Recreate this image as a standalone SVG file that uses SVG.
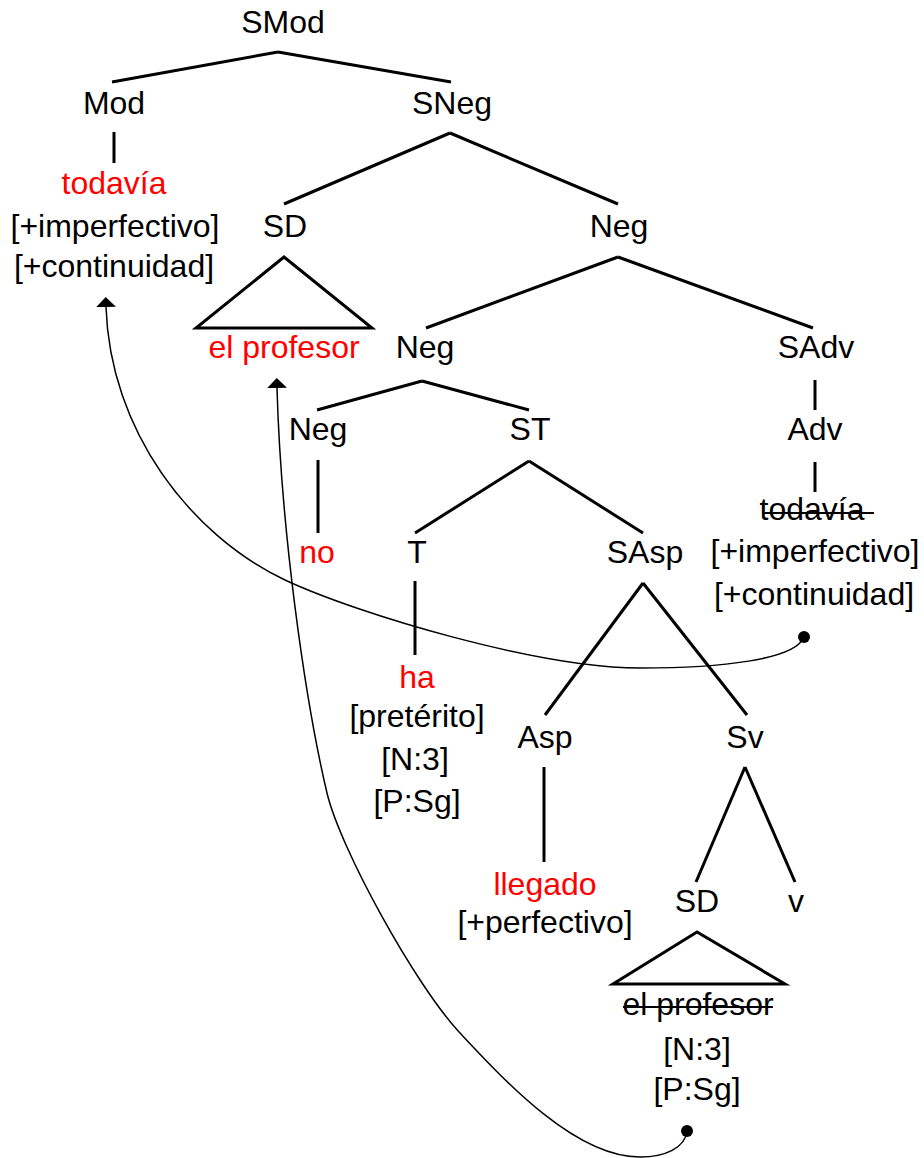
<svg xmlns="http://www.w3.org/2000/svg" width="924" height="1158" viewBox="0 0 924 1158">
<style>
text{font-family:"Liberation Sans",Arial,sans-serif;font-size:32px;text-anchor:middle;fill:#000}
.r{fill:#ff0000}
.e{stroke:#000;stroke-width:3;fill:none;stroke-linecap:butt}
.c{stroke:#000;stroke-width:1.5;fill:none}
.s{stroke:#000;stroke-width:2}
</style>
<defs>
<marker id="ah" markerUnits="userSpaceOnUse" viewBox="0 -11 11 22" markerWidth="11" markerHeight="22" refX="0" refY="0" orient="auto">
<path d="M0,-10 L10,0 L0,10 z" fill="#000"/>
</marker>
</defs>
<rect width="924" height="1158" fill="#fff"/>
<g id="edges">
<line class="e" x1="278" y1="52" x2="112" y2="82"/>
<line class="e" x1="278" y1="52" x2="451" y2="82"/>
<line class="e" x1="114" y1="132" x2="114" y2="163"/>
<line class="e" x1="450" y1="133" x2="284" y2="204"/>
<line class="e" x1="450" y1="133" x2="618" y2="204"/>
<polygon class="e" points="284,257 196,328 372,328"/>
<line class="e" x1="618" y1="257" x2="426" y2="328"/>
<line class="e" x1="618" y1="257" x2="813" y2="328"/>
<line class="e" x1="815" y1="380" x2="815" y2="410"/>
<line class="e" x1="815" y1="462" x2="815" y2="492"/>
<line class="e" x1="422" y1="381" x2="317" y2="410"/>
<line class="e" x1="422" y1="381" x2="529" y2="410"/>
<line class="e" x1="318" y1="460" x2="318" y2="533"/>
<line class="e" x1="529" y1="461" x2="415" y2="533"/>
<line class="e" x1="529" y1="461" x2="643" y2="533"/>
<line class="e" x1="415" y1="581" x2="415" y2="655"/>
<line class="e" x1="643" y1="583" x2="545" y2="715"/>
<line class="e" x1="643" y1="583" x2="747" y2="715"/>
<line class="e" x1="544" y1="767" x2="544" y2="862"/>
<line class="e" x1="745" y1="767" x2="696" y2="882"/>
<line class="e" x1="745" y1="767" x2="795" y2="882"/>
<polygon class="e" points="697,932 613,984 785,984"/>
</g>
<g id="movement">
<path class="c" d="M804,637 C795,660 720,668 640,668 C540,668 360,615 285,580 C190,535 110,430 106,307" marker-end="url(#ah)"/>
<circle cx="804" cy="637" r="6" fill="#000"/>
<path class="c" d="M687,1131 C685,1148 665,1157 640,1157 C575,1157 505,1081 460,1033 C415,985 340,848 327,793 C305,700 281,530 277,388" marker-end="url(#ah)"/>
<circle cx="687" cy="1131" r="6" fill="#000"/>
</g>
<g id="n-smod"><text x="283" y="33">SMod</text></g>
<g id="n-mod"><text x="114" y="114">Mod</text>
<text class="r" x="114" y="194">todavía</text>
<text x="115" y="237">[+imperfectivo]</text>
<text x="114" y="277">[+continuidad]</text></g>
<g id="n-sneg"><text x="452" y="114">SNeg</text></g>
<g id="n-sd1"><text x="285" y="237">SD</text>
<text class="r" x="284" y="358">el profesor</text></g>
<g id="n-neg1"><text x="619" y="237">Neg</text></g>
<g id="n-neg2"><text x="425" y="358">Neg</text></g>
<g id="n-sadv"><text x="816" y="358">SAdv</text></g>
<g id="n-adv"><text x="815" y="440">Adv</text>
<text x="812" y="520">todavía</text>
<line class="s" x1="762" y1="513" x2="874" y2="513"/>
<text x="815" y="562">[+imperfectivo]</text>
<text x="814" y="605">[+continuidad]</text></g>
<g id="n-neg3"><text x="318" y="440">Neg</text>
<text class="r" x="317" y="563">no</text></g>
<g id="n-st"><text x="530" y="440">ST</text></g>
<g id="n-t"><text x="417" y="563">T</text>
<text class="r" x="417" y="688">ha</text>
<text x="417" y="727">[pretérito]</text>
<text x="415" y="770">[N:3]</text>
<text x="417" y="812">[P:Sg]</text></g>
<g id="n-sasp"><text x="645" y="563">SAsp</text></g>
<g id="n-asp"><text x="545" y="748">Asp</text>
<text class="r" x="545" y="895">llegado</text>
<text x="545" y="933">[+perfectivo]</text></g>
<g id="n-sv"><text x="745" y="748">Sv</text></g>
<g id="n-sd2"><text x="697" y="912">SD</text>
<text x="698" y="1015">el profesor</text>
<line class="s" x1="623" y1="1007" x2="773" y2="1007"/>
<text x="697" y="1060">[N:3]</text>
<text x="697" y="1100">[P:Sg]</text></g>
<g id="n-v"><text x="796" y="912">v</text></g>
</svg>
